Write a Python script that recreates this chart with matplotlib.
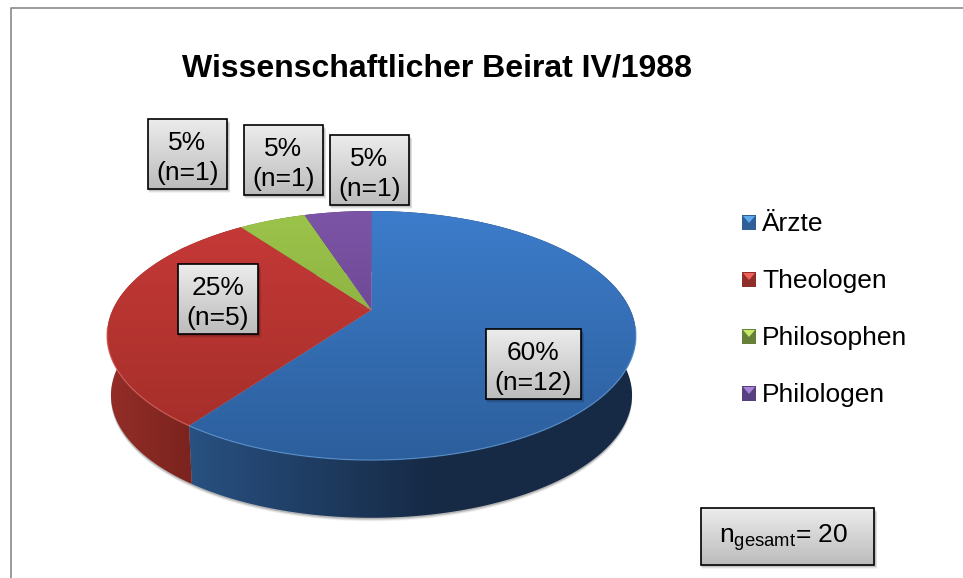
import numpy as np
import matplotlib
matplotlib.use('Agg')
import matplotlib.pyplot as plt
from matplotlib.patches import Polygon, Rectangle

plt.rcParams['font.family'] = ['Liberation Sans', 'DejaVu Sans']
plt.rcParams['mathtext.fontset'] = 'custom'
plt.rcParams['mathtext.rm'] = 'Liberation Sans'

# Data: five slices, the third one shares the red colour and has no legend entry
legend_names = ['Ärzte', 'Theologen', 'Philosophen', 'Philologen']
counts = [12, 5, 1, 1, 1]
percents = [60, 25, 5, 5, 5]
n_total = 20
title = 'Wissenschaftlicher Beirat IV/1988'

# Pixel boxes of the slice labels (x0, y0, x1, y1)
label_boxes = [(486, 329, 581, 399), (178, 264, 258, 334), (148, 119, 227, 189),
               (244, 125, 323, 195), (330, 135, 409, 205)]

RED_TOP = ((200, 58, 56), (160, 45, 40))
RED_SIDE = ((148, 45, 40), (122, 35, 30))
top_cols = [((61, 125, 204), (44, 94, 155)), RED_TOP, RED_TOP,
            ((157, 197, 75), (122, 155, 55)),
            ((125, 85, 168), (92, 58, 125))]
side_cols = [((40, 80, 128), (22, 42, 70)), RED_SIDE, RED_SIDE,
             ((110, 135, 50), (90, 115, 40)),
             ((80, 55, 110), (65, 45, 90))]
side_x = [(193, 430), (107, 193), (107, 193), (240, 304), (304, 371)]
rim_cols = ['#5f9ad8', '#d9665c', '#d9665c', '#b5d46a', '#9472bd']
marker_light = ['#5fa8ee', '#f0605c', '#c8e868', '#a884d8']
marker_dark = ['#2f5f96', '#8f2f2c', '#66803a', '#57407f']

fig = plt.figure(figsize=(9.63, 5.78), dpi=100)
ax = fig.add_axes([0, 0, 1, 1])
ax.set_xlim(0, 963)
ax.set_ylim(578, 0)
ax.axis('off')
ax.set_autoscale_on(False)

# Chart frame, only left and top are in view
ax.plot([10.5, 10.5, 963], [578, 7.5, 7.5], color='#8a8a8a', lw=1.2, zorder=1)


# Circle angle (clockwise from 12 o'clock) to picture coordinates, with perspective
def project(theta, scale=1.0, dy=0.0):
    u = np.sin(theta)
    v = np.cos(theta)
    den = 1 + 0.205 * v
    return 371.5 + scale * 258.9 * u / den, 310 + dy - scale * 119.3 * v / den


def clipped_image(rgb, extent, poly, zorder):
    im = ax.imshow(rgb / 255, extent=extent, aspect='auto', origin='upper',
                   zorder=zorder, interpolation='bilinear')
    im.set_clip_path(Polygon(poly, closed=True, transform=ax.transData))


SCALE, DEPTH = 0.985, 60

# Soft shadow under the pie
tt = np.linspace(0, 2 * np.pi, 300)
for off, a in [(3.5, 0.06), (2.5, 0.10), (1.5, 0.16)]:
    bx, by = project(tt, SCALE, DEPTH + off)
    ax.fill(bx, by, color='black', alpha=a, lw=0, zorder=1.5)

# Slice angles come from the counts
edges = np.concatenate([[0], np.cumsum(counts)]) / sum(counts) * 2 * np.pi


def slice_angles(i):
    # same coloured neighbours overlap a little so no seam shows
    start = edges[i] - 0.03 if i > 0 and top_cols[i] is top_cols[i - 1] else edges[i]
    return np.linspace(start, edges[i + 1], 200)


# Sides first, the top faces then cover whatever faces backwards
xs = np.linspace(100, 640, 540)
for i in range(len(counts)):
    th = slice_angles(i)
    tx, ty = project(th)
    bx, by = project(th, SCALE, DEPTH)
    poly = np.column_stack([np.r_[tx, bx[::-1]], np.r_[ty, by[::-1]]])
    x0, x1 = side_x[i]
    ramp = np.clip((xs - x0) / (x1 - x0), 0, 1)[:, None]
    rgb = (1 - ramp) * np.array(side_cols[i][0]) + ramp * np.array(side_cols[i][1])
    clipped_image(rgb[None, :, :], (100, 640, 530, 200), poly, 2)

# Top faces
ys = np.linspace(0, 1, 256)[:, None]
for i in range(len(counts)):
    th = slice_angles(i)
    tx, ty = project(th)
    poly = np.column_stack([np.r_[371.5, tx], np.r_[310, ty]])
    rgb = (1 - ys) * np.array(top_cols[i][0]) + ys * np.array(top_cols[i][1])
    clipped_image(rgb[:, None, :], (100, 645, 465, 205), poly, 3)
    # light rim on the front edge
    front = np.cos(th) < -0.15
    if front.any():
        ax.plot(tx[front], ty[front], color=rim_cols[i], lw=0.9, alpha=0.7, zorder=3.5)


# Grey label box with shadow and gradient
def label_box(box, text, text_x=None, text_dy=4.0, fontsize=19):
    x0, y0, x1, y1 = box
    for off, a in [(4, 0.05), (3, 0.08), (2, 0.12)]:
        ax.add_patch(Rectangle((x0 - 1 + off / 2, y0 + off), x1 - x0 + 2, y1 - y0, fc='black',
                               ec='none', alpha=a, zorder=4))
    t = np.linspace(0, 1, 64)[:, None]
    rgb = (1 - t) * np.array((236, 236, 236)) + t * np.array((188, 188, 188))
    ax.imshow(rgb[:, None, :] / 255, extent=(x0, x1, y1, y0), aspect='auto',
              zorder=5, interpolation='bilinear')
    ax.add_patch(Rectangle((x0, y0), x1 - x0, y1 - y0, fc='none', ec='black', lw=1.2, zorder=6))
    cx = (x0 + x1) / 2 if text_x is None else text_x
    ax.text(cx, (y0 + y1) / 2 + text_dy, text, ha='center', va='center',
            fontsize=fontsize, linespacing=1.27, color='black', zorder=7)


for box, pct, n in zip(label_boxes, percents, counts):
    label_box(box, f'{pct}%\n(n={n})')

label_box((701, 508, 874, 565), r'$\mathregular{n_{gesamt}}$= ' + str(n_total),
          text_x=784, text_dy=1.5)

# Title
ax.text(437.5, 68.5, title, ha='center', va='center', fontsize=23, fontweight='bold', zorder=7)

# Legend with bevelled markers
for i, name in enumerate(legend_names):
    yc = 222.5 + i * 57
    x0, x1, y0, y1 = 742, 756, yc - 7.5, yc + 7.5
    ax.add_patch(Rectangle((x0, y0), x1 - x0, y1 - y0, fc=marker_dark[i], ec='none', zorder=5))
    ax.add_patch(Polygon([(x0 + 1, y0 + 1), (x1 - 1, y0 + 1), ((x0 + x1) / 2, y0 + 8)],
                         closed=True, fc=marker_light[i], ec='none', zorder=6))
    ax.text(762, yc + 1.5, name, ha='left', va='center', fontsize=19, zorder=7)

fig.savefig('out.png', dpi=100)
